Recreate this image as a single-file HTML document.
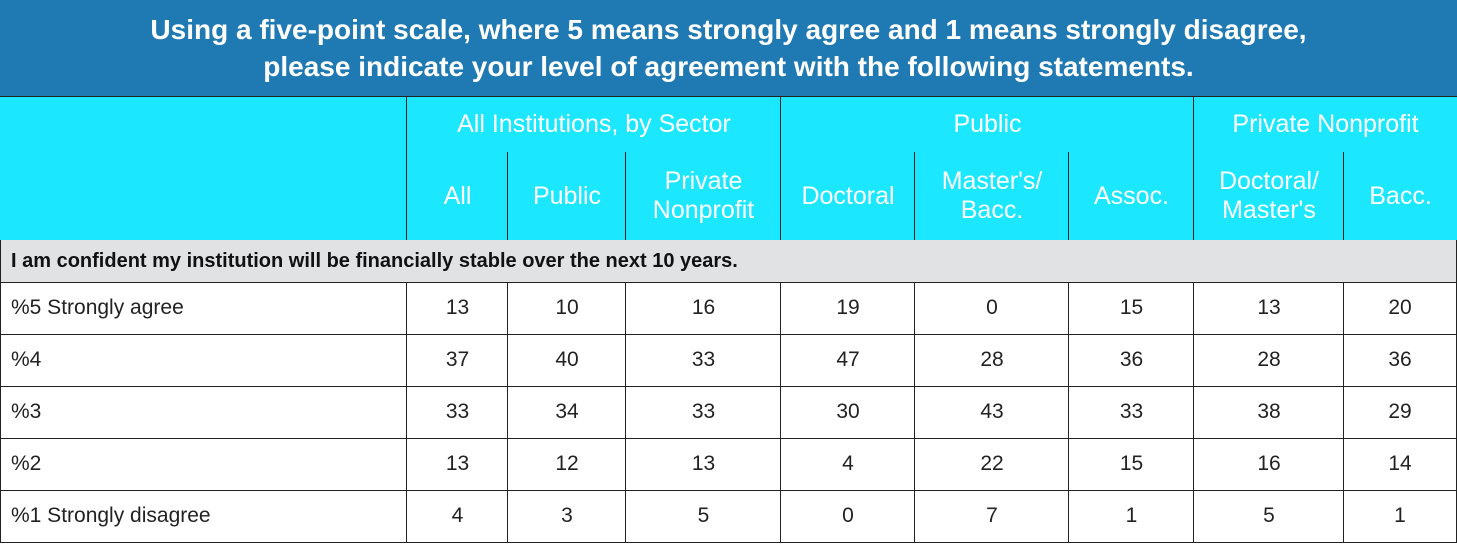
<!DOCTYPE html>
<html><head><meta charset="utf-8"><style>
body{margin:0;width:1457px;height:544px;overflow:hidden;background:#fff;font-family:"Liberation Sans",sans-serif;position:relative}
.c{position:absolute;box-sizing:border-box;display:flex;align-items:center;justify-content:center;text-align:center}
.title{left:0;top:0;width:1457px;height:97px;background:#1f79b3;color:#fff;font-weight:bold;font-size:28px;line-height:37px;border-bottom:1px solid #222}
.h{background:#1be7ff;color:#fff;font-size:25px;line-height:29px;border-left:1px solid #222;border-bottom:1px solid #222}
.g{background:#e1e2e4;color:#111;font-weight:bold;font-size:20px;justify-content:flex-start;padding-left:10px;border-bottom:1px solid #222;border-left:1px solid #222;border-right:1px solid #222}
.d{color:#222;font-size:21px;border-left:1px solid #222;border-bottom:1px solid #222}
.l{justify-content:flex-start;padding-left:10px}
</style></head><body>
<div class="c title">Using a five-point scale, where 5 means strongly agree and 1 means strongly disagree,<br>please indicate your level of agreement with the following statements.</div>
<div id="t"></div>
<script>
const cols=[0,406,507,625,780,914,1068,1193,1343,1456];
const groups=[["All Institutions, by Sector",1,4],["Public",4,7],["Private Nonprofit",7,9]];
const subs=["All","Public","Private<br>Nonprofit","Doctoral","Master's/<br>Bacc.","Assoc.","Doctoral/<br>Master's","Bacc."];
const rowLabels=["%5 Strongly agree","%4","%3","%2","%1 Strongly disagree"];
const values=[[13,10,16,19,0,15,13,20],[37,40,33,47,28,36,28,36],[33,34,33,30,43,33,38,29],[13,12,13,4,22,15,16,14],[4,3,5,0,7,1,5,1]];
function cell(cls,x,y,w,h,html,name){const d=document.createElement('div');d.className='c '+cls;d.style.cssText=`left:${x}px;top:${y}px;width:${w}px;height:${h}px`;d.innerHTML=html;


document.body.appendChild(d);return d;}
const blank=cell('h',0,97,407,144,'','header-blank');blank.style.borderLeft='none';
groups.forEach(g=>cell('h',cols[g[1]],97,cols[g[2]]-cols[g[1]]+1,56,g[0],'group-header'));
subs.forEach((s,i)=>cell('h',cols[i+1],152,cols[i+2]-cols[i+1]+1,89,s,'column-header'));
cell('g',0,240,1457,43,'I am confident my institution will be financially stable over the next 10 years.','section-header');
rowLabels.forEach((r,j)=>{const y=282+j*52;
cell('d l',0,y,407,53,r,'row-label');
values[j].forEach((v,i)=>{const c=cell('d',cols[i+1],y,cols[i+2]-cols[i+1]+1,53,v,'value-cell');if(i==7)c.style.borderRight='1px solid #222';});
});
</script>
</body></html>
